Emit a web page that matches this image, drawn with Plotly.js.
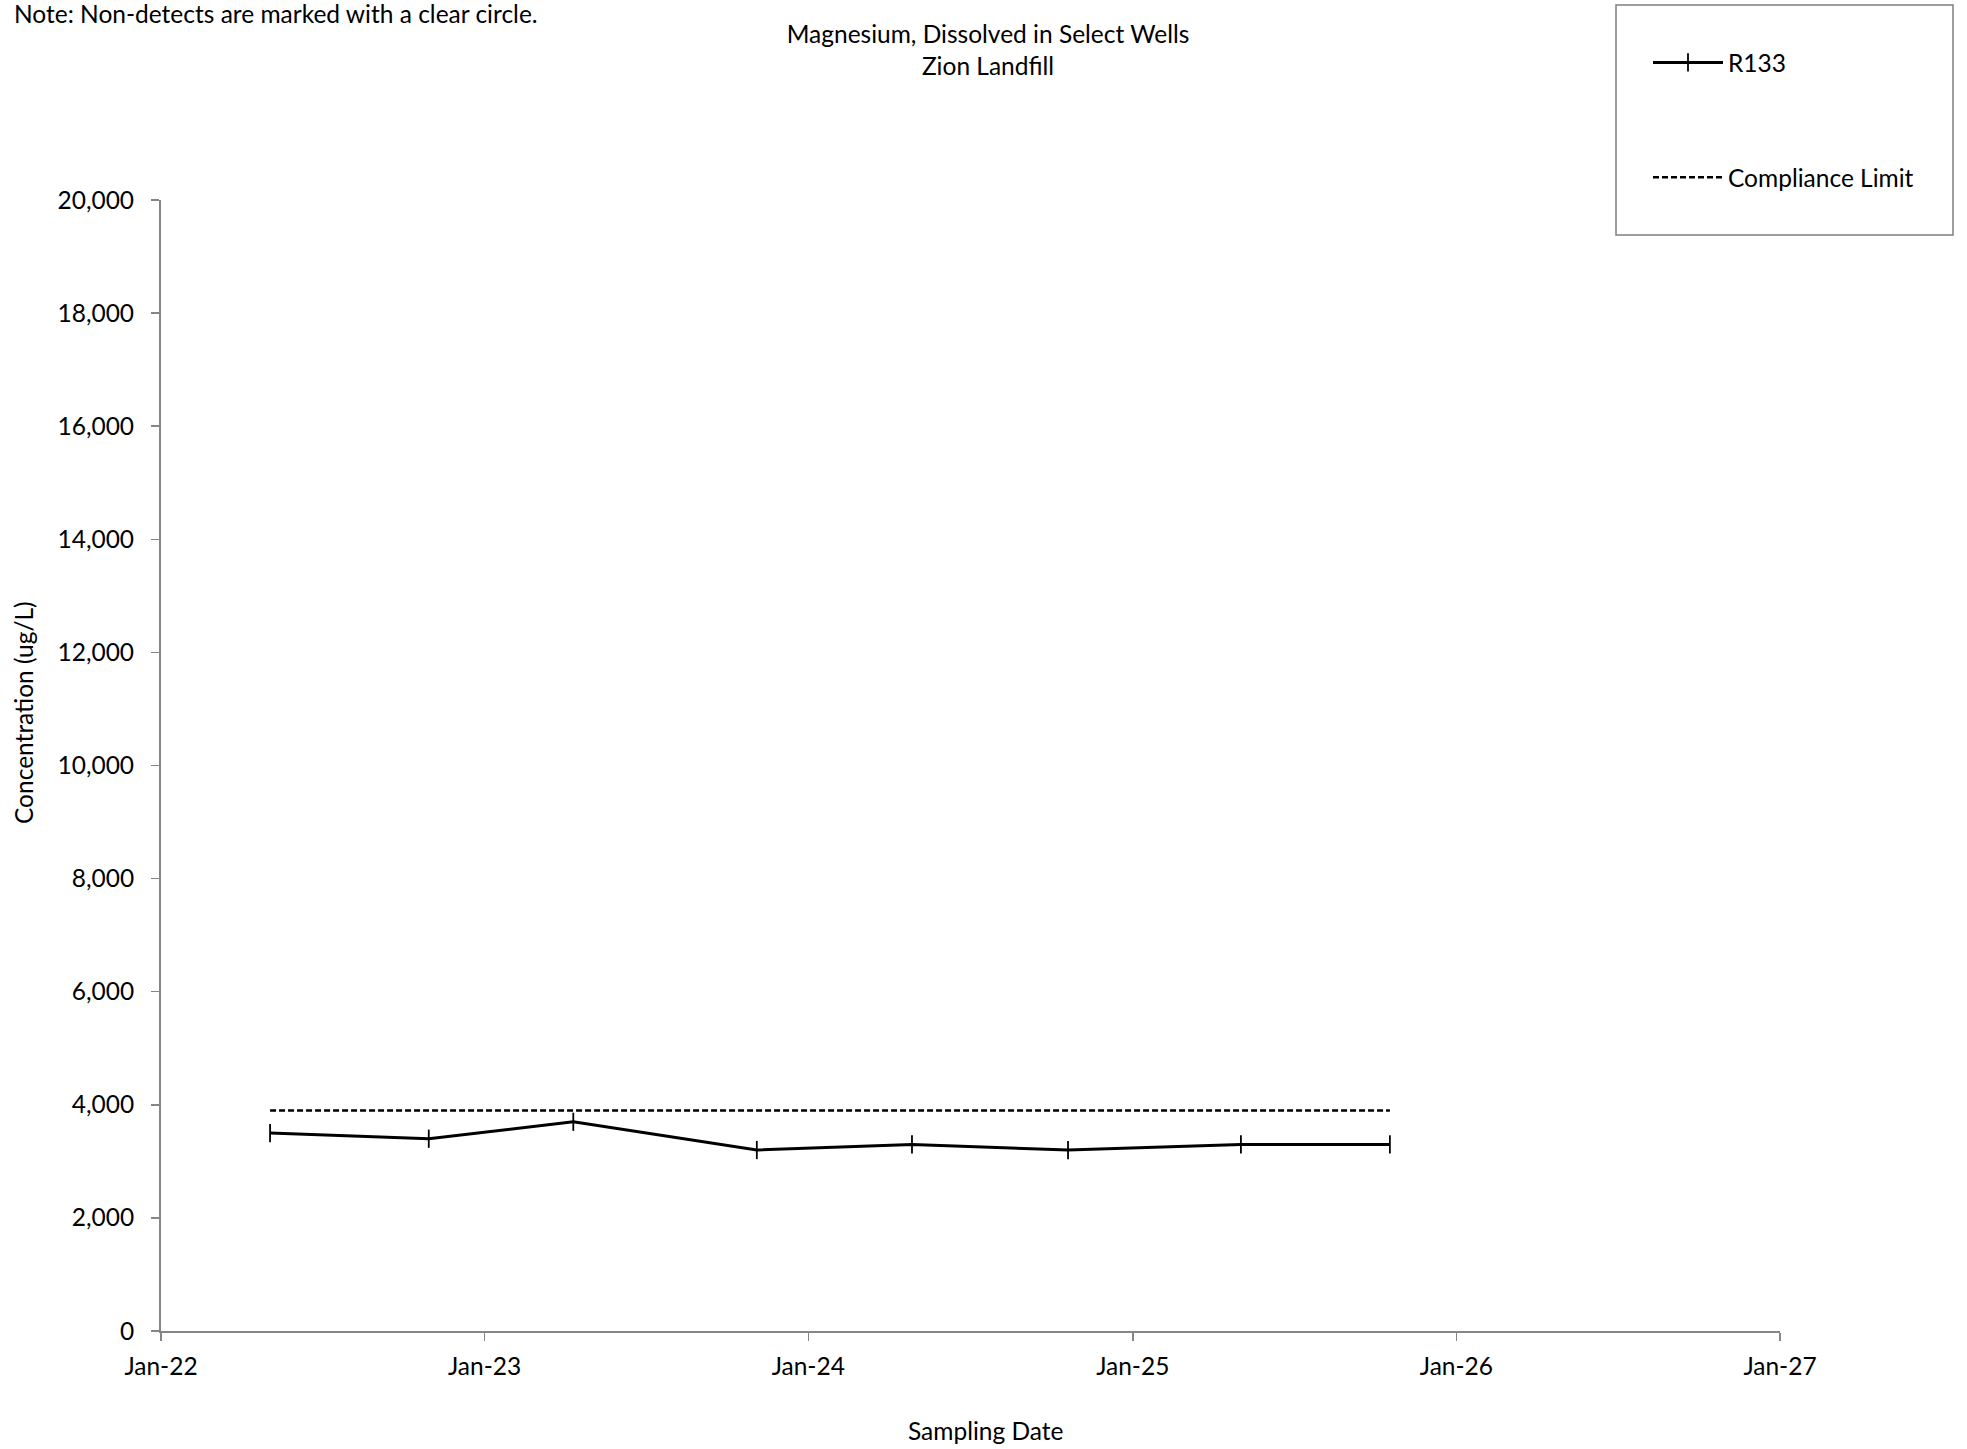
<!DOCTYPE html>
<html><head><meta charset="utf-8">
<script src="https://cdn.plot.ly/plotly-3.0.1.min.js"></script>
<style>html,body{margin:0;padding:0;background:#fff}</style>
</head><body><div id="chart" style="width:1967px;height:1449px"></div>
<script>
const sampleDates = ["2022-05-04","2022-10-30","2023-04-11","2023-11-04","2024-04-27","2024-10-20","2025-05-03","2025-10-18"];
const r133Values = [3500, 3400, 3700, 3200, 3300, 3200, 3300, 3300];
const complianceDates = ["2022-05-04", "2025-10-18"];
const complianceValues = [3900, 3900];
const seriesNames = ["R133", "Compliance Limit"];
const chartTitle = "Magnesium, Dissolved in Select Wells<br>Zion Landfill";
const noteText = "Note: Non-detects are marked with a clear circle.";
const xTitle = "Sampling Date";
const yTitle = "Concentration (ug/L)";

const FONT = "Lato, 'Open Sans', sans-serif";
const FS = 24.5;

const traces = [
  {
    x: sampleDates, y: r133Values, name: seriesNames[0], type: "scatter", mode: "lines+markers",
    line: {color: "#000", width: 3},
    marker: {symbol: "line-ns", size: 13, color: "#000", line: {color: "#000", width: 1.8}},
    legendgroup: "a"
  },
  {
    x: complianceDates, y: complianceValues, name: seriesNames[1], type: "scatter", mode: "lines",
    line: {color: "#000", width: 2.5, dash: "6px,3px"},
    legendgroup: "b"
  }
];

const W = 1967, H = 1449;
const L = 161, R = 1780, T = 200, B = 1331;
const px2x = p => (p - L) / (R - L);
const px2y = p => (B - p) / (B - T);

const layout = {
  width: W, height: H,
  margin: {l: L, r: W - R, t: T, b: H - B},
  paper_bgcolor: "#fff", plot_bgcolor: "#fff",
  font: {family: FONT, size: FS, color: "#000"},
  showlegend: true,
  title: {text: chartTitle, font: {family: FONT, size: FS, color: "#000"},
          x: 988 / W, xanchor: "center", xref: "container", y: 1 - 43 / H, yanchor: "top", yref: "container"},
  xaxis: {
    type: "date",
    range: ["2022-01-01", "2027-01-01"],
    tick0: "2022-01-01", dtick: "M12", tickformat: "%b-%y",
    showgrid: false, zeroline: false,
    showline: true, linecolor: "#868686", linewidth: 2,
    ticks: "outside", ticklen: 8, tickcolor: "#868686", tickwidth: 1.5,
    ticklabelstandoff: 5,
    tickfont: {family: FONT, size: FS, color: "#000"}
  },
  yaxis: {
    range: [0, 20000], tick0: 0, dtick: 2000, tickformat: ",d",
    showgrid: false, zeroline: false,
    showline: true, linecolor: "#868686", linewidth: 2,
    ticks: "outside", ticklen: 8, tickcolor: "#868686", tickwidth: 1.5,
    ticklabelstandoff: 12,
    tickfont: {family: FONT, size: FS, color: "#000"}
  },
  legend: {
    x: px2x(1648), xanchor: "left", y: px2y(40), yanchor: "top",
    bgcolor: "rgba(0,0,0,0)", borderwidth: 0,
    traceorder: "grouped", tracegroupgap: 80, itemwidth: 70,
    font: {family: FONT, size: FS, color: "#000"}
  },
  shapes: [
    {type: "rect", xref: "paper", yref: "paper",
     x0: px2x(1616), x1: px2x(1953), y0: px2y(235), y1: px2y(5),
     line: {color: "#7f7f7f", width: 1.5}, fillcolor: "rgba(0,0,0,0)"}
  ],
  annotations: [
    {text: noteText, xref: "paper", yref: "paper", x: px2x(12), y: px2y(13), xanchor: "left", yanchor: "middle",
     showarrow: false, font: {family: FONT, size: FS, color: "#000"}},
    {text: yTitle, xref: "paper", yref: "paper", x: px2x(23), y: px2y(713), xanchor: "center", yanchor: "middle",
     textangle: -90, showarrow: false, font: {family: FONT, size: FS, color: "#000"}},
    {text: xTitle, xref: "paper", yref: "paper", x: px2x(986), y: px2y(1430), xanchor: "center", yanchor: "middle",
     showarrow: false, font: {family: FONT, size: FS, color: "#000"}}
  ]
};

Plotly.newPlot("chart", traces, layout, {displayModeBar: false, staticPlot: true});
</script>
</body></html>
